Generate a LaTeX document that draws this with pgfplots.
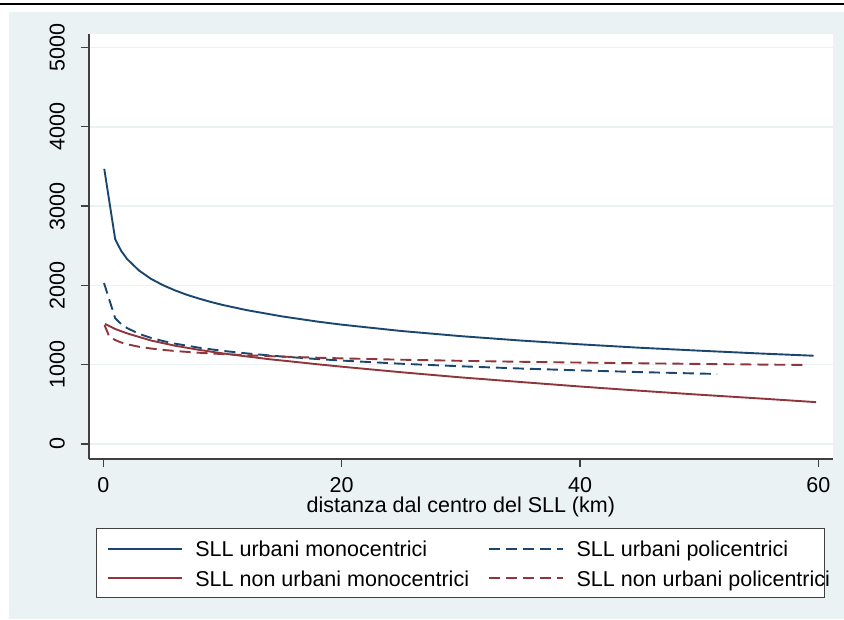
\documentclass[border=0pt]{standalone}
\usepackage{pgfplots}
\pgfplotsset{compat=1.18}
\usepackage{pgfplotstable}
\usepackage{fontspec}
\setmainfont{Liberation Sans}
\definecolor{stnavy}{RGB}{26,71,111}
\definecolor{stmaroon}{RGB}{144,53,59}
\definecolor{stbg}{RGB}{234,242,243}
\definecolor{staxis}{RGB}{64,64,64}
\newcommand{\chartfont}{\fontsize{21.5}{25}\selectfont}

\pgfplotstableread{
x y
0.08 3470
1 2581
1.5 2435
2 2332
3 2187
4 2083
5 2003
6 1938
7 1882
8 1835
9 1792
10 1754
12 1689
15 1609
18 1543
20 1505
25 1425
30 1360
35 1305
40 1257
45 1214
50 1177
55 1142
59.6 1113
}\urbmono

\pgfplotstableread{
x y
0.06 2030
1 1585
1.5 1513
2 1462
3 1389
4 1338
5 1299
6 1266
8 1215
10 1175
12 1143
15 1103
18 1071
20 1052
25 1012
30 980
35 952
40 928
45 907
51.5 883
}\urbpoli

\pgfplotstableread{
x y
0.15 1515
1 1450
2 1395
3 1350
4 1305
6 1240
8 1188
10 1143
12 1105
14 1068
16 1037
18 1005
20 975
25 905
30 840
35 782
40 725
45 672
50 622
55 575
59.8 528
}\nonurbmono

\pgfplotstableread{
x y
0.1 1500
0.5 1355
1 1311
1.5 1280
2 1258
3 1226
4 1204
5 1187
6 1173
8 1151
10 1134
12 1120
15 1102
18 1088
20 1080
25 1063
30 1049
35 1037
40 1027
45 1018
50 1010
55 1002
58.7 997
}\nonurbpoli

\begin{document}
\begin{tikzpicture}
\path[use as bounding box] (0pt,0pt) rectangle (844pt,619pt);
\fill[stbg] (9pt,0pt) rectangle (844pt,607pt);
\fill[black] (0pt,614pt) rectangle (844pt,616pt);
\filldraw[fill=white, draw=staxis, line width=1.2pt] (96.7pt,21.3pt) rectangle (824.3pt,90.7pt);
\begin{axis}[
  at={(89pt,160pt)}, anchor=south west,
  scale only axis, width=743.7pt, height=425pt,
  xmin=-1.2, xmax=61.2, ymin=-189, ymax=5170,
  axis x line*=bottom, axis y line*=left,
  axis line style={-, draw=staxis, line width=1.2pt},
  axis background/.style={fill=white},
  tick align=outside, major tick length=8pt,
  tick style={draw=staxis, line width=1.2pt},
  xtick={0,20,40,60}, ytick={0,1000,2000,3000,4000,5000},
  minor tick num=0,
  ymajorgrids, grid style={draw=stbg, line width=1.5pt},
  scaled ticks=false,
  /pgf/number format/assume math mode=true,
  /pgf/number format/1000 sep={},
  tick label style={font=\chartfont},
  xticklabel style={anchor=north, inner sep=0pt},
  xticklabel shift=10.3pt,
  yticklabel style={rotate=90, anchor=south, inner sep=0pt},
  yticklabel shift=16pt,
  xlabel={distanza dal centro del SLL (km)},
  xlabel style={font=\chartfont, at={(axis description cs:0.5,0)}, anchor=north, inner sep=0pt, yshift=-37.7pt},
  legend columns=2,
  legend image code/.code={\draw[#1] (0pt,0pt) -- (74pt,0pt);},
  legend style={at={(axis description cs:0.0238,-0.1913)}, anchor=north west,
    draw=none, fill=none, inner sep=0pt, font=\chartfont,
    cells={anchor=west},
    nodes={inner sep=0pt, text height=16.4pt, text depth=0pt},
    row sep=13pt,
    /tikz/every odd column/.append style={column sep=12.6pt},
    /tikz/every even column/.append style={column sep=19pt}},
]
\addplot[stnavy, line width=1.9pt] table {\urbmono};
\addlegendentry{SLL urbani monocentrici}
\addplot[stnavy, line width=1.9pt, dash pattern=on 11pt off 6pt] table {\urbpoli};
\addlegendentry{SLL urbani policentrici}
\addplot[stmaroon, line width=1.9pt] table {\nonurbmono};
\addlegendentry{SLL non urbani monocentrici}
\addplot[stmaroon, line width=1.9pt, dash pattern=on 11pt off 6pt] table {\nonurbpoli};
\addlegendentry{SLL non urbani policentrici}
\end{axis}
\end{tikzpicture}
\end{document}
